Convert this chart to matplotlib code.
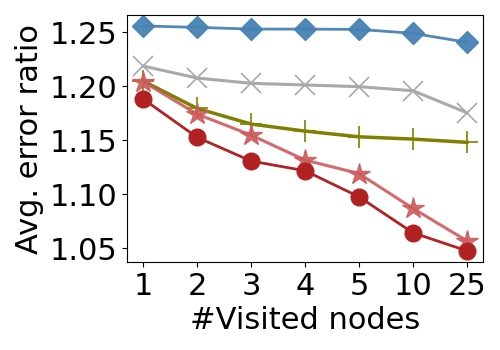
import matplotlib
matplotlib.use("Agg")
import matplotlib.pyplot as plt

x_labels = ["1", "2", "3", "4", "5", "10", "25"]
blue = [1.2556, 1.2543, 1.2527, 1.2527, 1.2524, 1.2488, 1.2405]
gray = [1.2185, 1.2074, 1.2025, 1.2010, 1.1994, 1.1957, 1.1753]
olive = [1.2046, 1.1793, 1.1648, 1.1583, 1.1530, 1.1509, 1.1479]
lightred = [1.2040, 1.1740, 1.1546, 1.1315, 1.1190, 1.0868, 1.0568]
darkred = [1.1880, 1.1525, 1.1306, 1.1216, 1.0975, 1.0642, 1.0475]

fig, ax = plt.subplots(figsize=(5, 3.5), dpi=100)
xs = list(range(len(x_labels)))
ax.plot(xs, blue, color="#4682B4", marker="D", markersize=11, lw=2, alpha=0.95)
ax.plot(xs, gray, color="#A9A9A9", marker="x", markersize=14, mew=1.2, lw=2.2)
ax.plot(xs, olive, color="#808000", marker="+", markersize=16, mew=1.2, lw=2.5)
ax.plot(xs, lightred, color="#CD5C5C", marker="*", markersize=16, lw=2.2, alpha=0.9)
ax.plot(xs, darkred, color="#B22222", marker="o", markersize=12, lw=2)

ax.set_xticks(xs)
ax.set_xticklabels(x_labels)
ax.set_yticks([1.05, 1.10, 1.15, 1.20, 1.25])
ax.set_xlim(-0.3, 6.3)
ax.set_ylim(1.037, 1.2657)
ax.tick_params(labelsize=22)
ax.set_xlabel("#Visited nodes", fontsize=22)
ax.set_ylabel("Avg. error ratio", fontsize=22)
fig.subplots_adjust(left=0.254, right=0.966, top=0.957, bottom=0.251)
fig.savefig("out.png", dpi=100)
